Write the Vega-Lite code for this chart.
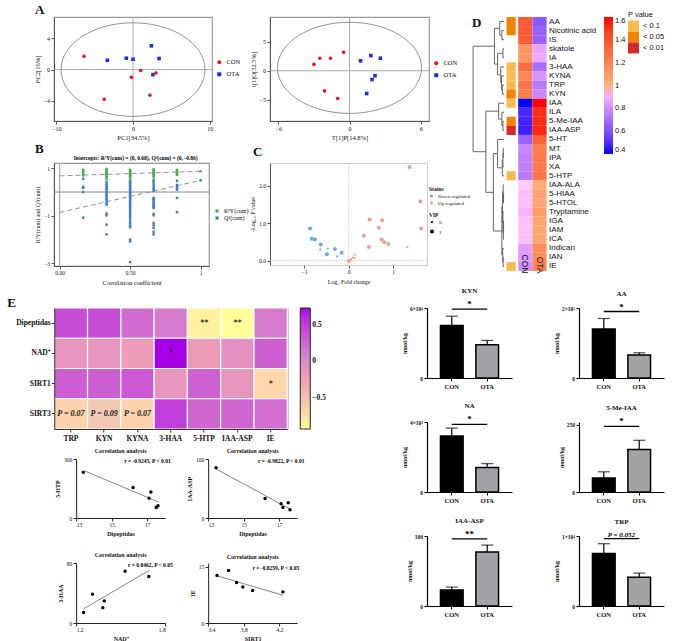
{
"$schema": "https://vega.github.io/schema/vega-lite/v6.json",
"background": "white",
"padding": {"left": 3, "top": 2, "right": 0, "bottom": 0},
"spacing": 0,
"resolve": {"scale": {"color": "independent", "shape": "independent", "size": "independent"}},
"config": {
  "font": "Liberation Serif",
  "view": {"stroke": null},
  "axis": {"grid": false, "labelOverlap": false, "labelFontSize": 6, "titleFontSize": 6.5, "titleFontWeight": "normal", "labelColor": "#111", "titleColor": "#111", "domainColor": "#555", "tickColor": "#555", "tickSize": 3, "labelPadding": 1.5, "titlePadding": 3, "labelFont": "Liberation Serif", "titleFont": "Liberation Serif"},
  "legend": {"labelFontSize": 6, "titleFontSize": 6, "labelColor": "#111", "titleColor": "#111", "labelFont": "Liberation Serif", "titleFont": "Liberation Serif"},
  "title": {"fontWeight": "bold", "color": "#111", "font": "Liberation Serif"},
  "point": {"opacity": 1},
  "circle": {"opacity": 1},
  "square": {"opacity": 1}
},
"datasets": {
  "zero": [{"z": 0}],
  "pca1": [
    {"g":"CON","x":-6.4,"y":1.7},{"g":"CON","x":-3.75,"y":-3.8},{"g":"CON","x":-0.2,"y":-1.0},{"g":"CON","x":1.0,"y":-0.13},{"g":"CON","x":3.0,"y":-0.43},{"g":"CON","x":2.2,"y":-3.3},
    {"g":"OTA","x":-3.35,"y":1.2},{"g":"OTA","x":-0.87,"y":1.46},{"g":"OTA","x":0.0,"y":1.33},{"g":"OTA","x":2.4,"y":3.05},{"g":"OTA","x":3.4,"y":1.42},{"g":"OTA","x":2.6,"y":-0.65}],
  "pca2": [
    {"g":"CON","x":-3.0,"y":1.1},{"g":"CON","x":-2.5,"y":2.15},{"g":"CON","x":-1.6,"y":2.15},{"g":"CON","x":-0.5,"y":3.15},{"g":"CON","x":-2.1,"y":-3.45},{"g":"CON","x":-1.0,"y":-4.75},
    {"g":"OTA","x":0.93,"y":1.7},{"g":"OTA","x":1.8,"y":2.6},{"g":"OTA","x":2.6,"y":2.15},{"g":"OTA","x":2.15,"y":-0.85},{"g":"OTA","x":1.9,"y":-1.5},{"g":"OTA","x":1.45,"y":-3.9}],
  "permline": [{"t":"R","x":0,"y":0.68},{"t":"R","x":1,"y":0.87},{"t":"Q","x":0,"y":-0.86},{"t":"Q","x":1,"y":0.49}],
  "perm": [
    {"t":"R","x":0.167,"v":0.93},{"t":"R","x":0.167,"v":0.88},{"t":"R","x":0.167,"v":0.83},{"t":"R","x":0.167,"v":0.77},{"t":"R","x":0.167,"v":0.70},
    {"t":"R","x":0.333,"v":0.97},{"t":"R","x":0.333,"v":0.92},{"t":"R","x":0.333,"v":0.88},{"t":"R","x":0.333,"v":0.84},{"t":"R","x":0.333,"v":0.80},{"t":"R","x":0.333,"v":0.76},{"t":"R","x":0.333,"v":0.72},{"t":"R","x":0.333,"v":0.68},{"t":"R","x":0.333,"v":0.62},{"t":"R","x":0.333,"v":0.55},
    {"t":"R","x":0.5,"v":0.93},{"t":"R","x":0.5,"v":0.89},{"t":"R","x":0.5,"v":0.85},{"t":"R","x":0.5,"v":0.81},{"t":"R","x":0.5,"v":0.77},{"t":"R","x":0.5,"v":0.73},{"t":"R","x":0.5,"v":0.68},{"t":"R","x":0.5,"v":0.63},{"t":"R","x":0.5,"v":0.58},
    {"t":"R","x":0.667,"v":0.95},{"t":"R","x":0.667,"v":0.90},{"t":"R","x":0.667,"v":0.86},{"t":"R","x":0.667,"v":0.82},{"t":"R","x":0.667,"v":0.78},{"t":"R","x":0.667,"v":0.74},{"t":"R","x":0.667,"v":0.70},{"t":"R","x":0.667,"v":0.62},
    {"t":"R","x":0.833,"v":0.93},{"t":"R","x":0.833,"v":0.88},{"t":"R","x":0.833,"v":0.84},{"t":"R","x":0.833,"v":0.80},{"t":"R","x":0.833,"v":0.76},{"t":"R","x":0.833,"v":0.72},
    {"t":"R","x":1,"v":0.87},
    {"t":"Q","x":0.167,"v":0.56},{"t":"Q","x":0.167,"v":0.22},{"t":"Q","x":0.167,"v":0.17},{"t":"Q","x":0.167,"v":0.0},{"t":"Q","x":0.167,"v":-1.08},
    {"t":"Q","x":0.333,"v":0.42},{"t":"Q","x":0.333,"v":0.34},{"t":"Q","x":0.333,"v":0.27},{"t":"Q","x":0.333,"v":0.2},{"t":"Q","x":0.333,"v":0.14},{"t":"Q","x":0.333,"v":0.07},{"t":"Q","x":0.333,"v":0.0},{"t":"Q","x":0.333,"v":-0.07},{"t":"Q","x":0.333,"v":-0.14},{"t":"Q","x":0.333,"v":-0.22},{"t":"Q","x":0.333,"v":-0.3},{"t":"Q","x":0.333,"v":-0.35},{"t":"Q","x":0.333,"v":-0.46},{"t":"Q","x":0.333,"v":-0.53},{"t":"Q","x":0.333,"v":-0.9},{"t":"Q","x":0.333,"v":-0.98},{"t":"Q","x":0.333,"v":-1.37},{"t":"Q","x":0.333,"v":-1.78},
    {"t":"Q","x":0.5,"v":0.48},{"t":"Q","x":0.5,"v":0.42},{"t":"Q","x":0.5,"v":0.36},{"t":"Q","x":0.5,"v":0.3},{"t":"Q","x":0.5,"v":0.24},{"t":"Q","x":0.5,"v":0.18},{"t":"Q","x":0.5,"v":0.12},{"t":"Q","x":0.5,"v":0.06},{"t":"Q","x":0.5,"v":0.0},{"t":"Q","x":0.5,"v":-0.06},{"t":"Q","x":0.5,"v":-0.12},{"t":"Q","x":0.5,"v":-0.18},{"t":"Q","x":0.5,"v":-0.24},{"t":"Q","x":0.5,"v":-0.3},{"t":"Q","x":0.5,"v":-0.36},{"t":"Q","x":0.5,"v":-0.42},{"t":"Q","x":0.5,"v":-0.48},{"t":"Q","x":0.5,"v":-0.55},{"t":"Q","x":0.5,"v":-0.62},{"t":"Q","x":0.5,"v":-0.7},{"t":"Q","x":0.5,"v":-0.78},{"t":"Q","x":0.5,"v":-0.86},{"t":"Q","x":0.5,"v":-0.94},{"t":"Q","x":0.5,"v":-1.02},{"t":"Q","x":0.5,"v":-1.1},{"t":"Q","x":0.5,"v":-1.2},{"t":"Q","x":0.5,"v":-1.3},{"t":"Q","x":0.5,"v":-1.4},{"t":"Q","x":0.5,"v":-1.48},{"t":"Q","x":0.5,"v":-2.0},{"t":"Q","x":0.5,"v":-2.08},{"t":"Q","x":0.5,"v":-2.95},
    {"t":"Q","x":0.667,"v":0.5},{"t":"Q","x":0.667,"v":0.42},{"t":"Q","x":0.667,"v":0.32},{"t":"Q","x":0.667,"v":0.22},{"t":"Q","x":0.667,"v":0.12},{"t":"Q","x":0.667,"v":0.05},{"t":"Q","x":0.667,"v":-0.25},{"t":"Q","x":0.667,"v":-0.3},{"t":"Q","x":0.667,"v":-0.35},{"t":"Q","x":0.667,"v":-0.42},{"t":"Q","x":0.667,"v":-0.48},{"t":"Q","x":0.667,"v":-0.55},{"t":"Q","x":0.667,"v":-0.62},{"t":"Q","x":0.667,"v":-0.67},{"t":"Q","x":0.667,"v":-0.92},{"t":"Q","x":0.667,"v":-0.98},{"t":"Q","x":0.667,"v":-1.3},{"t":"Q","x":0.667,"v":-1.4},{"t":"Q","x":0.667,"v":-1.5},{"t":"Q","x":0.667,"v":-1.67},{"t":"Q","x":0.667,"v":-1.78},
    {"t":"Q","x":0.833,"v":0.47},{"t":"Q","x":0.833,"v":0.3},{"t":"Q","x":0.833,"v":0.22},{"t":"Q","x":0.833,"v":0.15},{"t":"Q","x":0.833,"v":0.1},{"t":"Q","x":0.833,"v":-0.25},{"t":"Q","x":0.833,"v":-0.85},
    {"t":"Q","x":1,"v":0.49}],
  "caption": [{"x": 0.1, "y": 1.22, "t": "Intercepts: R²Y(cum) = (0, 0.68), Q²(cum) = (0, -0.86)"}],
  "volcano": [
    {"s":"Down regulated","x":-0.87,"y":0.86,"vip":"1"},{"s":"Down regulated","x":-0.83,"y":0.58,"vip":"1"},{"s":"Down regulated","x":-0.76,"y":0.56,"vip":"1"},{"s":"Down regulated","x":-0.63,"y":0.43,"vip":"1"},{"s":"Down regulated","x":-0.64,"y":0.29,"vip":"0"},{"s":"Down regulated","x":-0.47,"y":0.32,"vip":"0"},{"s":"Down regulated","x":-0.49,"y":0.17,"vip":"1"},{"s":"Down regulated","x":-0.31,"y":0.31,"vip":"1"},{"s":"Down regulated","x":-0.26,"y":0.11,"vip":"0"},{"s":"Down regulated","x":-0.16,"y":0.21,"vip":"1"},
    {"s":"Up regulated","x":0.0,"y":-0.01,"vip":"1"},{"s":"Up regulated","x":0.05,"y":0.03,"vip":"0"},{"s":"Up regulated","x":0.09,"y":0.08,"vip":"0"},{"s":"Up regulated","x":0.13,"y":0.07,"vip":"0"},{"s":"Up regulated","x":0.14,"y":0.16,"vip":"0"},{"s":"Up regulated","x":0.34,"y":0.66,"vip":"1"},{"s":"Up regulated","x":0.45,"y":0.36,"vip":"1"},{"s":"Up regulated","x":0.47,"y":1.1,"vip":"1"},{"s":"Up regulated","x":0.68,"y":0.88,"vip":"1"},{"s":"Up regulated","x":0.75,"y":1.08,"vip":"1"},{"s":"Up regulated","x":0.74,"y":0.56,"vip":"1"},{"s":"Up regulated","x":0.8,"y":0.49,"vip":"1"},{"s":"Up regulated","x":0.89,"y":0.44,"vip":"1"},{"s":"Up regulated","x":1.32,"y":0.36,"vip":"0"},{"s":"Up regulated","x":1.37,"y":2.5,"vip":"1"},{"s":"Up regulated","x":1.61,"y":1.58,"vip":"1"},{"s":"Up regulated","x":1.63,"y":0.86,"vip":"1"}],
  "dendro": [
    {"a":10,"b":10,"c":1,"d":2},{"a":0,"b":10,"c":1,"d":1},{"a":0,"b":10,"c":2,"d":2},
    {"a":20,"b":20,"c":0,"d":1.5},{"a":0,"b":20,"c":0,"d":0},{"a":10,"b":20,"c":1.5,"d":1.5},
    {"a":5,"b":5,"c":3,"d":4},{"a":0,"b":5,"c":3,"d":3},{"a":0,"b":5,"c":4,"d":4},
    {"a":8,"b":8,"c":7,"d":8},{"a":0,"b":8,"c":7,"d":7},{"a":0,"b":8,"c":8,"d":8},
    {"a":12,"b":12,"c":6,"d":7.5},{"a":0,"b":12,"c":6,"d":6},{"a":8,"b":12,"c":7.5,"d":7.5},
    {"a":15,"b":15,"c":5,"d":6.75},{"a":0,"b":15,"c":5,"d":5},{"a":12,"b":15,"c":6.75,"d":6.75},
    {"a":30,"b":30,"c":3.5,"d":5.875},{"a":5,"b":30,"c":3.5,"d":3.5},{"a":15,"b":30,"c":5.875,"d":5.875},
    {"a":45,"b":45,"c":0.75,"d":4.6875},{"a":20,"b":45,"c":0.75,"d":0.75},{"a":30,"b":45,"c":4.6875,"d":4.6875},
    {"a":5,"b":5,"c":11,"d":12},{"a":0,"b":5,"c":11,"d":11},{"a":0,"b":5,"c":12,"d":12},
    {"a":10,"b":10,"c":10,"d":11.5},{"a":0,"b":10,"c":10,"d":10},{"a":5,"b":10,"c":11.5,"d":11.5},
    {"a":25,"b":25,"c":9,"d":10.75},{"a":0,"b":25,"c":9,"d":9},{"a":10,"b":25,"c":10.75,"d":10.75},
    {"a":3,"b":3,"c":14,"d":15},{"a":0,"b":3,"c":14,"d":14},{"a":0,"b":3,"c":15,"d":15},
    {"a":5,"b":5,"c":14.5,"d":16},{"a":3,"b":5,"c":14.5,"d":14.5},{"a":0,"b":5,"c":16,"d":16},
    {"a":8,"b":8,"c":15.25,"d":17},{"a":5,"b":8,"c":15.25,"d":15.25},{"a":0,"b":8,"c":17,"d":17},
    {"a":30,"b":30,"c":13,"d":16.125},{"a":0,"b":30,"c":13,"d":13},{"a":8,"b":30,"c":16.125,"d":16.125},
    {"a":2,"b":2,"c":19,"d":20},{"a":0,"b":2,"c":19,"d":19},{"a":0,"b":2,"c":20,"d":20},
    {"a":4,"b":4,"c":18,"d":19.5},{"a":0,"b":4,"c":18,"d":18},{"a":2,"b":4,"c":19.5,"d":19.5},
    {"a":2,"b":2,"c":22,"d":23},{"a":0,"b":2,"c":22,"d":22},{"a":0,"b":2,"c":23,"d":23},
    {"a":3,"b":3,"c":22.5,"d":24},{"a":2,"b":3,"c":22.5,"d":22.5},{"a":0,"b":3,"c":24,"d":24},
    {"a":5,"b":5,"c":21,"d":23.25},{"a":0,"b":5,"c":21,"d":21},{"a":3,"b":5,"c":23.25,"d":23.25},
    {"a":7,"b":7,"c":18.75,"d":22.125},{"a":4,"b":7,"c":18.75,"d":18.75},{"a":5,"b":7,"c":22.125,"d":22.125},
    {"a":4,"b":4,"c":26,"d":27},{"a":0,"b":4,"c":26,"d":26},{"a":0,"b":4,"c":27,"d":27},
    {"a":6,"b":6,"c":25,"d":26.5},{"a":0,"b":6,"c":25,"d":25},{"a":4,"b":6,"c":26.5,"d":26.5},
    {"a":10,"b":10,"c":20.44,"d":25.75},{"a":7,"b":10,"c":20.44,"d":20.44},{"a":6,"b":10,"c":25.75,"d":25.75},
    {"a":50,"b":50,"c":14.56,"d":23.09},{"a":30,"b":50,"c":14.56,"d":14.56},{"a":10,"b":50,"c":23.09,"d":23.09},
    {"a":85,"b":85,"c":9.88,"d":18.83},{"a":25,"b":85,"c":9.88,"d":9.88},{"a":50,"b":85,"c":18.83,"d":18.83},
    {"a":145,"b":145,"c":2.72,"d":14.35},{"a":45,"b":145,"c":2.72,"d":2.72},{"a":85,"b":145,"c":14.35,"d":14.35}],
  "dlabel": [{"a": 150, "c": -0.5, "t": "D"}],
  "pcol": [
    {"n":"AA","p":"< 0.05"},{"n":"Nicotinic acid","p":"< 0.05"},{"n":"3-HAA","p":"< 0.1"},{"n":"KYNA","p":"< 0.1"},{"n":"TRP","p":"< 0.1"},{"n":"KYN","p":"< 0.05"},{"n":"IAA","p":"< 0.1"},{"n":"5-Me-IAA","p":"< 0.05"},{"n":"IAA-ASP","p":"< 0.01"},{"n":"5-HTP","p":"< 0.1"},{"n":"IE","p":"< 0.1"}],
  "heat": [
    {"n":"AA","g":"CON","v":1.37},{"n":"AA","g":"OTA","v":0.63},
    {"n":"Nicotinic acid","g":"CON","v":1.36},{"n":"Nicotinic acid","g":"OTA","v":0.66},
    {"n":"IS","g":"CON","v":1.36},{"n":"IS","g":"OTA","v":0.66},
    {"n":"skatole","g":"CON","v":1.13},{"n":"skatole","g":"OTA","v":0.87},
    {"n":"IA","g":"CON","v":1.12},{"n":"IA","g":"OTA","v":0.88},
    {"n":"3-HAA","g":"CON","v":1.3},{"n":"3-HAA","g":"OTA","v":0.7},
    {"n":"KYNA","g":"CON","v":1.18},{"n":"KYNA","g":"OTA","v":0.82},
    {"n":"TRP","g":"CON","v":1.27},{"n":"TRP","g":"OTA","v":0.73},
    {"n":"KYN","g":"CON","v":1.22},{"n":"KYN","g":"OTA","v":0.78},
    {"n":"IAA","g":"CON","v":0.4},{"n":"IAA","g":"OTA","v":1.6},
    {"n":"ILA","g":"CON","v":0.48},{"n":"ILA","g":"OTA","v":1.52},
    {"n":"5-Me-IAA","g":"CON","v":0.47},{"n":"5-Me-IAA","g":"OTA","v":1.53},
    {"n":"IAA-ASP","g":"CON","v":0.46},{"n":"IAA-ASP","g":"OTA","v":1.54},
    {"n":"5-HT","g":"CON","v":0.66},{"n":"5-HT","g":"OTA","v":1.34},
    {"n":"MT","g":"CON","v":0.78},{"n":"MT","g":"OTA","v":1.22},
    {"n":"IPA","g":"CON","v":0.76},{"n":"IPA","g":"OTA","v":1.24},
    {"n":"XA","g":"CON","v":0.76},{"n":"XA","g":"OTA","v":1.24},
    {"n":"5-HTP","g":"CON","v":0.74},{"n":"5-HTP","g":"OTA","v":1.26},
    {"n":"IAA-ALA","g":"CON","v":0.98},{"n":"IAA-ALA","g":"OTA","v":1.02},
    {"n":"5-HIAA","g":"CON","v":0.94},{"n":"5-HIAA","g":"OTA","v":1.06},
    {"n":"5-HTOL","g":"CON","v":0.94},{"n":"5-HTOL","g":"OTA","v":1.06},
    {"n":"Tryptamine","g":"CON","v":0.91},{"n":"Tryptamine","g":"OTA","v":1.09},
    {"n":"IGA","g":"CON","v":0.95},{"n":"IGA","g":"OTA","v":1.05},
    {"n":"IAM","g":"CON","v":0.95},{"n":"IAM","g":"OTA","v":1.05},
    {"n":"ICA","g":"CON","v":0.95},{"n":"ICA","g":"OTA","v":1.05},
    {"n":"Indican","g":"CON","v":0.85},{"n":"Indican","g":"OTA","v":1.15},
    {"n":"IAN","g":"CON","v":0.83},{"n":"IAN","g":"OTA","v":1.17},
    {"n":"IE","g":"CON","v":0.8},{"n":"IE","g":"OTA","v":1.2}],
  "corr": [
    {"row":"Dipeptidas","col":"TRP","r":0.42,"lab":""},{"row":"Dipeptidas","col":"KYN","r":0.42,"lab":""},{"row":"Dipeptidas","col":"KYNA","r":0.22,"lab":""},{"row":"Dipeptidas","col":"3-HAA","r":0.12,"lab":""},{"row":"Dipeptidas","col":"5-HTP","r":-0.85,"lab":"**"},{"row":"Dipeptidas","col":"IAA-ASP","r":-0.93,"lab":"**"},{"row":"Dipeptidas","col":"IE","r":0.12,"lab":""},
    {"row":"NAD⁺","col":"TRP","r":-0.12,"lab":""},{"row":"NAD⁺","col":"KYN","r":-0.12,"lab":""},{"row":"NAD⁺","col":"KYNA","r":-0.2,"lab":""},{"row":"NAD⁺","col":"3-HAA","r":0.85,"lab":"*"},{"row":"NAD⁺","col":"5-HTP","r":-0.18,"lab":""},{"row":"NAD⁺","col":"IAA-ASP","r":-0.08,"lab":""},{"row":"NAD⁺","col":"IE","r":0.3,"lab":""},
    {"row":"SIRT1","col":"TRP","r":0.3,"lab":""},{"row":"SIRT1","col":"KYN","r":0.3,"lab":""},{"row":"SIRT1","col":"KYNA","r":0.35,"lab":""},{"row":"SIRT1","col":"3-HAA","r":-0.12,"lab":""},{"row":"SIRT1","col":"5-HTP","r":0.28,"lab":""},{"row":"SIRT1","col":"IAA-ASP","r":-0.12,"lab":""},{"row":"SIRT1","col":"IE","r":-0.68,"lab":"*"},
    {"row":"SIRT3","col":"TRP","r":-0.64,"lab":"P = 0.07"},{"row":"SIRT3","col":"KYN","r":-0.56,"lab":"P = 0.09"},{"row":"SIRT3","col":"KYNA","r":-0.64,"lab":"P = 0.07"},{"row":"SIRT3","col":"3-HAA","r":0.5,"lab":""},{"row":"SIRT3","col":"5-HTP","r":0.25,"lab":""},{"row":"SIRT3","col":"IAA-ASP","r":0.25,"lab":""},{"row":"SIRT3","col":"IE","r":0.2,"lab":""}],
  "sc": [
    {"p":1,"x":13.4,"y":232},{"p":1,"x":16.2,"y":155},{"p":1,"x":17.1,"y":100},{"p":1,"x":17.2,"y":132},{"p":1,"x":17.5,"y":54},{"p":1,"x":17.6,"y":62},
    {"p":2,"x":13.45,"y":85},{"p":2,"x":16.2,"y":33},{"p":2,"x":17.1,"y":24},{"p":2,"x":17.2,"y":18},{"p":2,"x":17.5,"y":26},{"p":2,"x":17.6,"y":14},
    {"p":3,"x":1.25,"y":14},{"p":3,"x":1.31,"y":38.5},{"p":3,"x":1.38,"y":20.5},{"p":3,"x":1.39,"y":29.5},{"p":3,"x":1.53,"y":69},{"p":3,"x":1.69,"y":62},
    {"p":4,"x":3.5,"y":12.7},{"p":4,"x":3.63,"y":14},{"p":4,"x":3.72,"y":10.8},{"p":4,"x":3.79,"y":9.6},{"p":4,"x":3.9,"y":8.7},{"p":4,"x":4.24,"y":8.3}],
  "scl": [
    {"p":1,"x":13.43,"y":241},{"p":1,"x":17.64,"y":81},
    {"p":2,"x":13.45,"y":83},{"p":2,"x":17.64,"y":14.6},
    {"p":3,"x":1.25,"y":18.8},{"p":3,"x":1.69,"y":70},
    {"p":4,"x":3.5,"y":12.6},{"p":4,"x":4.24,"y":7.4}],
  "ann": [
    {"p":1,"x":15.7,"y":292,"t":"r = -0.9245, P < 0.01"},
    {"p":2,"x":15.8,"y":97,"t":"r = -0.9822, P < 0.01"},
    {"p":3,"x":1.55,"y":78,"t":"r = 0.8462, P < 0.05"},
    {"p":4,"x":3.9,"y":14.7,"t":"r = -0.8259, P < 0.05"}],
  "bars": [
    {"m":"KYN","g":"CON","mean":45000,"hi":53000},{"m":"KYN","g":"OTA","mean":28400,"hi":32200},
    {"m":"AA","g":"CON","mean":140000,"hi":170000},{"m":"AA","g":"OTA","mean":66000,"hi":72000},
    {"m":"NA","g":"CON","mean":3200,"hi":3650},{"m":"NA","g":"OTA","mean":1400,"hi":1620},
    {"m":"5-Me-IAA","g":"CON","mean":52,"hi":75},{"m":"5-Me-IAA","g":"OTA","mean":158,"hi":192},
    {"m":"IAA-ASP","g":"CON","mean":23,"hi":27},{"m":"IAA-ASP","g":"OTA","mean":77,"hi":87},
    {"m":"TRP","g":"CON","mean":7500,"hi":8900},{"m":"TRP","g":"OTA","mean":4100,"hi":4700}],
  "sig": [
    {"m":"KYN","y":59000,"lab":"*"},{"m":"AA","y":190000,"lab":"*"},{"m":"NA","y":3870,"lab":"*"},
    {"m":"5-Me-IAA","y":244,"lab":"*"},{"m":"IAA-ASP","y":96,"lab":"**"},{"m":"TRP","y":9620,"lab":"P = 0.052"}]
},
"vconcat": [
 {
  "hconcat": [
   {
    "concat": [
     {
      "width": 158, "height": 104,
      "view": {"stroke": "#999", "strokeWidth": 1.2},
      "title": {"text": "A", "anchor": "start", "frame": "group", "fontSize": 13, "offset": 0, "dx": -19},
      "layer": [
       {"data": {"name": "zero"}, "mark": {"type": "rule", "color": "#aaa", "strokeWidth": 1}, "encoding": {"x": {"field": "z", "type": "quantitative"}}},
       {"data": {"name": "zero"}, "mark": {"type": "rule", "color": "#aaa", "strokeWidth": 1}, "encoding": {"y": {"field": "z", "type": "quantitative"}}},
       {"data": {"values": [{"cx": 0, "cy": 0}]}, "mark": {"type": "point", "shape": "M-1,0A1,0.65,0,1,0,1,0A1,0.65,0,1,0,-1,0Z", "size": 20736, "filled": false, "color": "#777", "strokeWidth": 0.8}, "encoding": {"x": {"field": "cx", "type": "quantitative"}, "y": {"field": "cy", "type": "quantitative"}}},
       {"data": {"name": "pca1"}, "mark": {"type": "point", "filled": true, "size": 13},
        "encoding": {
         "x": {"field": "x", "type": "quantitative", "scale": {"domain": [-10.3, 10.3], "nice": false}, "axis": {"values": [-10, -5, 0, 5, 10], "title": "PC1[34.5%]", "labelOverlap": false}},
         "y": {"field": "y", "type": "quantitative", "scale": {"domain": [-6.6, 6.75], "nice": false}, "axis": {"values": [-4, 0, 4], "title": "PC2[16%]", "labelOverlap": false}},
         "color": {"field": "g", "type": "nominal", "scale": {"domain": ["CON", "OTA"], "range": ["#e8161b", "#1a2ee6"]}, "legend": {"title": null, "orient": "none", "legendX": 162, "legendY": 42, "labelFontSize": 6.5, "symbolSize": 16, "rowPadding": 1}},
         "shape": {"field": "g", "type": "nominal", "scale": {"domain": ["CON", "OTA"], "range": ["circle", "square"]}, "legend": {"title": null, "orient": "none", "legendX": 162, "legendY": 42, "labelFontSize": 6.5, "symbolSize": 16, "rowPadding": 1}}
        }}
      ]
     },
     {
      "width": 159, "height": 104,
      "view": {"stroke": "#999", "strokeWidth": 1.2},
      "layer": [
       {"data": {"name": "zero"}, "mark": {"type": "rule", "color": "#aaa", "strokeWidth": 1}, "encoding": {"x": {"field": "z", "type": "quantitative"}}},
       {"data": {"name": "zero"}, "mark": {"type": "rule", "color": "#aaa", "strokeWidth": 1}, "encoding": {"y": {"field": "z", "type": "quantitative"}}},
       {"data": {"values": [{"cx": 0, "cy": 0.5}]}, "mark": {"type": "point", "shape": "M-1,0A1,0.633,0,1,0,1,0A1,0.633,0,1,0,-1,0Z", "size": 20736, "filled": false, "color": "#777", "strokeWidth": 0.8}, "encoding": {"x": {"field": "cx", "type": "quantitative"}, "y": {"field": "cy", "type": "quantitative"}}},
       {"data": {"name": "pca2"}, "mark": {"type": "point", "filled": true, "size": 13},
        "encoding": {
         "x": {"field": "x", "type": "quantitative", "scale": {"domain": [-6.7, 6.7], "nice": false}, "axis": {"values": [-6, -3, 0, 3, 6], "title": "T[1]P[14.8%]", "labelOverlap": false}},
         "y": {"field": "y", "type": "quantitative", "scale": {"domain": [-8.6, 9.2], "nice": false}, "axis": {"values": [-5, 0, 5], "title": "t[1]O[32.5%]", "labelOverlap": false}},
         "color": {"field": "g", "type": "nominal", "scale": {"domain": ["CON", "OTA"], "range": ["#e8161b", "#1a2ee6"]}, "legend": {"title": null, "orient": "none", "legendX": 163, "legendY": 43, "labelFontSize": 6.5, "symbolSize": 16, "rowPadding": 1}},
         "shape": {"field": "g", "type": "nominal", "scale": {"domain": ["CON", "OTA"], "range": ["circle", "square"]}, "legend": {"title": null, "orient": "none", "legendX": 163, "legendY": 43, "labelFontSize": 6.5, "symbolSize": 16, "rowPadding": 1}}
        }}
      ]
     },
     {
      "width": 155, "height": 103,
      "view": {"stroke": "#999", "strokeWidth": 1.2},
      "title": {"text": "B", "anchor": "start", "frame": "group", "fontSize": 13, "offset": 0, "dx": -19},
      "layer": [
       {"data": {"name": "zero"}, "mark": {"type": "rule", "color": "#aaa", "strokeWidth": 1.2}, "encoding": {"x": {"field": "z", "type": "quantitative"}}},
       {"data": {"name": "zero"}, "mark": {"type": "rule", "color": "#888", "strokeWidth": 1}, "encoding": {"y": {"field": "z", "type": "quantitative"}}},
       {"data": {"name": "permline"}, "mark": {"type": "line", "strokeDash": [5, 3], "color": "#888", "strokeWidth": 0.9}, "encoding": {"x": {"field": "x", "type": "quantitative"}, "y": {"field": "y", "type": "quantitative"}, "detail": {"field": "t"}}},
       {"data": {"name": "perm"}, "mark": {"type": "square", "size": 6},
        "encoding": {
         "x": {"field": "x", "type": "quantitative", "scale": {"domain": [-0.04, 1.06], "nice": false}, "axis": {"values": [0, 0.25, 0.5, 0.75, 1], "labelExpr": "datum.value == 1 ? '1' : format(datum.value, '.2f')", "title": "Correlation coefficient", "labelFontSize": 5.5, "titleFontSize": 6.5, "labelOverlap": false}},
         "y": {"field": "v", "type": "quantitative", "scale": {"domain": [-3.11, 1.22], "nice": false}, "axis": {"values": [-3, -2, -1, 0, 1], "title": "R²Y(cum) and Q²(cum)", "labelFontSize": 5.5, "titleFontSize": 6, "labelOverlap": false}},
         "color": {"field": "t", "type": "nominal", "scale": {"domain": ["R", "Q"], "range": ["#4cb050", "#3b7fc4"]}, "legend": {"title": null, "orient": "none", "legendX": 160, "legendY": 45, "labelFontSize": 6, "symbolType": "square", "symbolSize": 10, "rowPadding": 1, "labelExpr": "datum.label == 'R' ? 'R²Y(cum)' : 'Q²(cum)'"}}
        }},
       {"data": {"name": "caption"}, "mark": {"type": "text", "fontSize": 5.5, "fontWeight": "bold", "baseline": "bottom", "align": "left", "dy": -2}, "encoding": {"x": {"field": "x", "type": "quantitative"}, "y": {"field": "y", "type": "quantitative"}, "text": {"field": "t"}}}
      ]
     },
     {
      "width": 157, "height": 102,
      "view": {"stroke": "#ccc", "strokeWidth": 1},
      "title": {"text": "C", "anchor": "start", "frame": "group", "fontSize": 13, "offset": 4, "dx": -17},
      "layer": [
       {"data": {"name": "zero"}, "mark": {"type": "rule", "color": "#bbb", "strokeWidth": 0.8, "strokeDash": [1.5, 1.5]}, "encoding": {"x": {"field": "z", "type": "quantitative"}}},
       {"data": {"name": "zero"}, "mark": {"type": "rule", "color": "#bbb", "strokeWidth": 0.8, "strokeDash": [1.5, 1.5]}, "encoding": {"y": {"field": "z", "type": "quantitative"}}},
       {"data": {"name": "volcano"}, "mark": {"type": "circle"},
        "encoding": {
         "x": {"field": "x", "type": "quantitative", "scale": {"domain": [-1.77, 1.76], "nice": false}, "axis": {"values": [-1, 0, 1], "title": "Log₂ Fold change", "labelFontSize": 5.5, "titleFontSize": 6, "domainColor": "#ccc", "labelOverlap": false}},
         "y": {"field": "y", "type": "quantitative", "scale": {"domain": [-0.12, 2.61], "nice": false}, "axis": {"values": [0, 0.5, 1, 1.5, 2, 2.5], "format": ".1f", "title": "-Log₁₀ P value", "labelFontSize": 5.5, "titleFontSize": 6, "labelOverlap": false}},
         "color": {"field": "s", "type": "nominal", "scale": {"domain": ["Down regulated", "Up regulated"], "range": ["#6ea6ee", "#f49a93"]}, "legend": {"title": "Status", "orient": "none", "legendX": 159, "legendY": 24, "labelFontSize": 5, "titleFontSize": 5.5, "symbolSize": 10, "rowPadding": 1, "titlePadding": 1}},
         "size": {"field": "vip", "type": "ordinal", "scale": {"domain": ["0", "1"], "range": [5, 16]}, "legend": {"title": "VIP", "orient": "none", "legendX": 159, "legendY": 50, "labelFontSize": 5, "titleFontSize": 5.5, "rowPadding": 0, "titlePadding": 1}}
        }}
      ]
     }
    ],
    "columns": 2,
    "bounds": "flush",
    "spacing": {"row": 42, "column": 58},
    "resolve": {"scale": {"color": "independent", "shape": "independent", "size": "independent"}}
   },
   {
    "hconcat": [
     {
      "width": 32, "height": 254,
      "layer": [
       {"data": {"name": "dendro"}, "mark": {"type": "rule", "color": "#666", "strokeWidth": 1},
        "encoding": {
         "x": {"field": "a", "type": "quantitative", "scale": {"domain": [150, 0], "nice": false, "zero": false}, "axis": null},
         "x2": {"field": "b"},
         "y": {"field": "c", "type": "quantitative", "scale": {"domain": [-0.5, 27.5], "reverse": true, "nice": false, "zero": false}, "axis": null},
         "y2": {"field": "d"}
        }},
       {"data": {"name": "dlabel"}, "mark": {"type": "text", "fontSize": 13, "fontWeight": "bold", "align": "left", "baseline": "top", "font": "Liberation Serif", "color": "#111"}, "encoding": {"x": {"field": "a", "type": "quantitative"}, "y": {"field": "c", "type": "quantitative"}, "text": {"field": "t"}}}
      ]
     },
     {
      "width": 42.6, "height": 254,
      "layer": [
       {"data": {"name": "pcol"}, "mark": {"type": "rect", "width": {"band": 0.65}},
        "encoding": {
         "x": {"datum": "P", "type": "nominal"},
         "y": {"field": "n", "type": "nominal", "scale": {"domain": ["AA","Nicotinic acid","IS","skatole","IA","3-HAA","KYNA","TRP","KYN","IAA","ILA","5-Me-IAA","IAA-ASP","5-HT","MT","IPA","XA","5-HTP","IAA-ALA","5-HIAA","5-HTOL","Tryptamine","IGA","IAM","ICA","Indican","IAN","IE"], "paddingInner": 0, "paddingOuter": 0}},
         "color": {"field": "p", "type": "nominal", "scale": {"domain": ["< 0.1", "< 0.05", "< 0.01"], "range": ["#fcbb4c", "#f28200", "#d62b2b"]}, "legend": {"title": "P value", "orient": "none", "legendX": 124, "legendY": -6, "titleFont": "Liberation Sans", "titleFontSize": 7.5, "titleFontWeight": "normal", "labelFont": "Liberation Sans", "labelFontSize": 7.5, "symbolType": "square", "symbolSize": 120, "symbolStrokeWidth": 0, "rowPadding": 0, "titlePadding": 2}}
        }},
       {"data": {"name": "heat"}, "mark": {"type": "rect"},
        "encoding": {
         "x": {"field": "g", "type": "nominal", "scale": {"domain": ["P", "CON", "OTA"], "paddingInner": 0, "paddingOuter": 0}, "axis": {"title": null, "labelAngle": 90, "ticks": false, "domain": false, "labelFont": "Liberation Sans", "labelFontSize": 8.5, "labelPadding": 2, "labelExpr": "datum.label == 'P' ? '' : datum.label"}},
         "y": {"field": "n", "type": "nominal", "scale": {"domain": ["AA","Nicotinic acid","IS","skatole","IA","3-HAA","KYNA","TRP","KYN","IAA","ILA","5-Me-IAA","IAA-ASP","5-HT","MT","IPA","XA","5-HTP","IAA-ALA","5-HIAA","5-HTOL","Tryptamine","IGA","IAM","ICA","Indican","IAN","IE"], "paddingInner": 0, "paddingOuter": 0}, "axis": {"title": null, "orient": "right", "ticks": false, "domain": false, "labelFont": "Liberation Sans", "labelFontSize": 8, "labelPadding": 2}},
         "color": {"field": "v", "type": "quantitative", "scale": {"domain": [0.4, 1, 1.6], "range": ["#0000ff", "#ffffff", "#ff0000"]}, "legend": {"title": null, "orient": "none", "legendX": 100, "legendY": 0, "direction": "vertical", "gradientLength": 137, "gradientThickness": 9, "values": [0.4, 0.6, 0.8, 1, 1.2, 1.4, 1.6], "labelExpr": "'' + datum.value", "labelFont": "Liberation Sans", "labelFontSize": 7.5, "labelOverlap": false}}
        }}
      ],
      "resolve": {"scale": {"color": "independent"}}
     }
    ],
    "spacing": 0,
    "bounds": "flush",
    "resolve": {"scale": {"color": "independent", "shape": "independent", "size": "independent"}}
   }
  ],
  "spacing": 0,
  "resolve": {"scale": {"color": "independent", "shape": "independent", "size": "independent"}}
 },
 {
  "hconcat": [
   {
    "vconcat": [
     {
      "width": 233, "height": 121,
      "view": {"stroke": "#333", "strokeWidth": 1},
      "title": {"text": "E", "anchor": "start", "frame": "group", "fontSize": 13, "offset": -3, "dx": -47},
      "data": {"name": "corr"},
      "encoding": {
       "x": {"field": "col", "type": "nominal", "sort": ["TRP", "KYN", "KYNA", "3-HAA", "5-HTP", "IAA-ASP", "IE"], "scale": {"paddingInner": 0, "paddingOuter": 0}, "axis": {"title": null, "labelAngle": 0, "labelFontSize": 7.5, "labelFontWeight": "bold", "domainColor": "#333", "tickColor": "#333", "tickSize": 3, "labelPadding": 2}},
       "y": {"field": "row", "type": "nominal", "sort": ["Dipeptidas", "NAD⁺", "SIRT1", "SIRT3"], "scale": {"paddingInner": 0, "paddingOuter": 0}, "axis": {"title": null, "labelFontSize": 7.5, "labelFontWeight": "bold", "domainColor": "#333", "tickColor": "#333", "tickSize": 3, "labelPadding": 1, "minExtent": 50}}
      },
      "layer": [
       {"mark": {"type": "rect", "stroke": "#ffffff", "strokeWidth": 1.2},
        "encoding": {"color": {"field": "r", "type": "quantitative", "scale": {"domain": [-0.93, -0.55, 0, 0.73], "range": ["#ffff9a", "#f0c8b4", "#d88ccb", "#a800e6"], "clamp": true}, "legend": {"title": null, "direction": "vertical", "gradientLength": 121, "gradientThickness": 10, "values": [-0.5, 0, 0.5], "labelExpr": "datum.value == 0 ? '0' : format(datum.value, '.1f')", "labelFontSize": 7.5, "labelFontWeight": "bold", "gradientStrokeColor": "#222", "gradientStrokeWidth": 1, "offset": 13, "padding": 0, "labelOverlap": false}}}},
       {"mark": {"type": "text", "fontSize": 8, "fontWeight": "bold", "fontStyle": "italic", "color": "#222"}, "encoding": {"text": {"field": "lab"}}}
      ]
     },
     {
      "concat": [
       {
        "width": 89, "height": 59,
        "title": {"text": "Correlation analysis", "fontSize": 6, "offset": 3},
        "layer": [
         {"data": {"name": "scl"}, "transform": [{"filter": "datum.p == 1"}], "mark": {"type": "line", "color": "#666", "strokeWidth": 0.8}, "encoding": {"x": {"field": "x", "type": "quantitative"}, "y": {"field": "y", "type": "quantitative"}}},
         {"data": {"name": "sc"}, "transform": [{"filter": "datum.p == 1"}], "mark": {"type": "circle", "color": "#000", "size": 12},
          "encoding": {"x": {"field": "x", "type": "quantitative", "scale": {"domain": [13, 18], "nice": false, "zero": false}, "axis": {"values": [13, 14, 15, 16, 17, 18], "title": "Dipeptidas", "labelFontSize": 5.5, "titleFontSize": 6, "titleFontWeight": "bold", "domainColor": "#222", "tickColor": "#222", "labelOverlap": false, "titlePadding": 2}},
                       "y": {"field": "y", "type": "quantitative", "scale": {"domain": [0, 300]}, "axis": {"values": [0, 100, 200, 300], "title": "5-HTP", "labelFontSize": 5.5, "titleFontSize": 6, "titleFontWeight": "bold", "domainColor": "#222", "tickColor": "#222", "labelOverlap": false}}}},
         {"data": {"name": "ann"}, "transform": [{"filter": "datum.p == 1"}], "mark": {"type": "text", "fontSize": 5.5, "fontWeight": "bold", "align": "left"}, "encoding": {"x": {"field": "x", "type": "quantitative"}, "y": {"field": "y", "type": "quantitative"}, "text": {"field": "t"}}}
        ]
       },
       {
        "width": 89, "height": 59,
        "title": {"text": "Correlation analysis", "fontSize": 6, "offset": 3},
        "layer": [
         {"data": {"name": "scl"}, "transform": [{"filter": "datum.p == 2"}], "mark": {"type": "line", "color": "#666", "strokeWidth": 0.8}, "encoding": {"x": {"field": "x", "type": "quantitative"}, "y": {"field": "y", "type": "quantitative"}}},
         {"data": {"name": "sc"}, "transform": [{"filter": "datum.p == 2"}], "mark": {"type": "circle", "color": "#000", "size": 12},
          "encoding": {"x": {"field": "x", "type": "quantitative", "scale": {"domain": [13, 18], "nice": false, "zero": false}, "axis": {"values": [13, 14, 15, 16, 17, 18], "title": "Dipeptidas", "labelFontSize": 5.5, "titleFontSize": 6, "titleFontWeight": "bold", "domainColor": "#222", "tickColor": "#222", "labelOverlap": false, "titlePadding": 2}},
                       "y": {"field": "y", "type": "quantitative", "scale": {"domain": [0, 100]}, "axis": {"values": [0, 20, 40, 60, 80, 100], "title": "IAA-ASP", "labelFontSize": 5.5, "titleFontSize": 6, "titleFontWeight": "bold", "domainColor": "#222", "tickColor": "#222", "labelOverlap": false}}}},
         {"data": {"name": "ann"}, "transform": [{"filter": "datum.p == 2"}], "mark": {"type": "text", "fontSize": 5.5, "fontWeight": "bold", "align": "left"}, "encoding": {"x": {"field": "x", "type": "quantitative"}, "y": {"field": "y", "type": "quantitative"}, "text": {"field": "t"}}}
        ]
       },
       {
        "width": 89, "height": 60,
        "title": {"text": "Correlation analysis", "fontSize": 6, "offset": 3},
        "layer": [
         {"data": {"name": "scl"}, "transform": [{"filter": "datum.p == 3"}], "mark": {"type": "line", "color": "#666", "strokeWidth": 0.8}, "encoding": {"x": {"field": "x", "type": "quantitative"}, "y": {"field": "y", "type": "quantitative"}}},
         {"data": {"name": "sc"}, "transform": [{"filter": "datum.p == 3"}], "mark": {"type": "circle", "color": "#000", "size": 12},
          "encoding": {"x": {"field": "x", "type": "quantitative", "scale": {"domain": [1.2, 1.8], "nice": false, "zero": false}, "axis": {"values": [1.2, 1.3, 1.4, 1.5, 1.6, 1.7, 1.8], "format": ".1f", "title": "NAD⁺", "labelFontSize": 5.5, "titleFontSize": 6, "titleFontWeight": "bold", "domainColor": "#222", "tickColor": "#222", "labelOverlap": false, "titlePadding": 2}},
                       "y": {"field": "y", "type": "quantitative", "scale": {"domain": [0, 80]}, "axis": {"values": [0, 20, 40, 60, 80], "title": "3-HAA", "labelFontSize": 5.5, "titleFontSize": 6, "titleFontWeight": "bold", "domainColor": "#222", "tickColor": "#222", "labelOverlap": false}}}},
         {"data": {"name": "ann"}, "transform": [{"filter": "datum.p == 3"}], "mark": {"type": "text", "fontSize": 5.5, "fontWeight": "bold", "align": "left"}, "encoding": {"x": {"field": "x", "type": "quantitative"}, "y": {"field": "y", "type": "quantitative"}, "text": {"field": "t"}}}
        ]
       },
       {
        "width": 89, "height": 60,
        "title": {"text": "Correlation analysis", "fontSize": 6, "offset": 3},
        "layer": [
         {"data": {"name": "scl"}, "transform": [{"filter": "datum.p == 4"}], "mark": {"type": "line", "color": "#666", "strokeWidth": 0.8}, "encoding": {"x": {"field": "x", "type": "quantitative"}, "y": {"field": "y", "type": "quantitative"}}},
         {"data": {"name": "sc"}, "transform": [{"filter": "datum.p == 4"}], "mark": {"type": "circle", "color": "#000", "size": 12},
          "encoding": {"x": {"field": "x", "type": "quantitative", "scale": {"domain": [3.4, 4.4], "nice": false, "zero": false}, "axis": {"values": [3.4, 3.6, 3.8, 4.0, 4.2, 4.4], "format": ".1f", "title": "SIRT1", "labelFontSize": 5.5, "titleFontSize": 6, "titleFontWeight": "bold", "domainColor": "#222", "tickColor": "#222", "labelOverlap": false, "titlePadding": 2}},
                       "y": {"field": "y", "type": "quantitative", "scale": {"domain": [0, 15]}, "axis": {"values": [0, 5, 10, 15], "title": "IE", "labelFontSize": 5.5, "titleFontSize": 6, "titleFontWeight": "bold", "domainColor": "#222", "tickColor": "#222", "labelOverlap": false}}}},
         {"data": {"name": "ann"}, "transform": [{"filter": "datum.p == 4"}], "mark": {"type": "text", "fontSize": 5.5, "fontWeight": "bold", "align": "left"}, "encoding": {"x": {"field": "x", "type": "quantitative"}, "y": {"field": "y", "type": "quantitative"}, "text": {"field": "t"}}}
        ]
       }
      ],
      "columns": 2,
      "bounds": "flush",
      "spacing": {"row": 45, "column": 43}
     }
    ],
    "spacing": 6,
    "center": true,
    "resolve": {"scale": {"color": "independent", "shape": "independent", "size": "independent"}}
   },
   {
    "concat": [
     {
      "width": 85, "height": 70,
      "title": {"text": "KYN", "fontSize": 7, "offset": 6},
      "encoding": {"x": {"field": "g", "type": "nominal", "scale": {"domain": ["CON", "OTA"], "paddingInner": 0.36, "paddingOuter": 0.38}, "axis": {"title": null, "labelAngle": 0, "labelFontSize": 6.5, "labelFontWeight": "bold", "domainColor": "#000", "domainWidth": 1.2, "tickColor": "#000", "tickSize": 3, "labelPadding": 2}}},
      "layer": [
       {"data": {"name": "bars"}, "transform": [{"filter": "datum.m == 'KYN'"}], "mark": {"type": "rule", "color": "#000", "strokeWidth": 1.2}, "encoding": {"y": {"field": "mean", "type": "quantitative"}, "y2": {"field": "hi"}}},
       {"data": {"name": "bars"}, "transform": [{"filter": "datum.m == 'KYN'"}], "mark": {"type": "tick", "color": "#000", "thickness": 1.2, "size": 12}, "encoding": {"y": {"field": "hi", "type": "quantitative"}}},
       {"data": {"name": "bars"}, "transform": [{"filter": "datum.m == 'KYN'"}], "mark": {"type": "bar", "stroke": "#000", "strokeWidth": 1.5}, "encoding": {"y": {"field": "mean", "type": "quantitative", "scale": {"domain": [0, 60000]}, "axis": {"values": [0, 20000, 40000, 60000], "labelExpr": "datum.value == 0 ? '0' : datum.value < 1000 ? format(datum.value, 'd') : format(datum.value / pow(10, floor(log(datum.value) / LN10 + 0.000001)), '') + '×10' + ['', '', '', '³', '⁴', '⁵'][floor(log(datum.value) / LN10 + 0.000001)]", "title": "nmol/kg", "labelFontSize": 5.5, "labelFontWeight": "bold", "titleFontSize": 6, "titleFontWeight": "bold", "domainColor": "#000", "domainWidth": 1.2, "tickColor": "#000", "titlePadding": 2, "labelOverlap": false}}, "color": {"field": "g", "type": "nominal", "scale": {"domain": ["CON", "OTA"], "range": ["#000000", "#a3a3a7"]}, "legend": null}}},
       {"data": {"name": "sig"}, "transform": [{"filter": "datum.m == 'KYN'"}], "mark": {"type": "rule", "color": "#000", "strokeWidth": 1.3}, "encoding": {"x": {"datum": "CON", "type": "nominal", "bandPosition": 0.5}, "x2": {"datum": "OTA", "bandPosition": 0.5}, "y": {"field": "y", "type": "quantitative"}}},
       {"data": {"name": "sig"}, "transform": [{"filter": "datum.m == 'KYN'"}], "mark": {"type": "text", "fontSize": 9, "fontWeight": "bold", "baseline": "bottom"}, "encoding": {"x": {"datum": "CON", "type": "nominal", "bandPosition": 1.28}, "y": {"field": "y", "type": "quantitative"}, "text": {"field": "lab"}}}
      ]
     },
     {
      "width": 85, "height": 70,
      "title": {"text": "AA", "fontSize": 7, "offset": 6},
      "encoding": {"x": {"field": "g", "type": "nominal", "scale": {"domain": ["CON", "OTA"], "paddingInner": 0.36, "paddingOuter": 0.38}, "axis": {"title": null, "labelAngle": 0, "labelFontSize": 6.5, "labelFontWeight": "bold", "domainColor": "#000", "domainWidth": 1.2, "tickColor": "#000", "tickSize": 3, "labelPadding": 2}}},
      "layer": [
       {"data": {"name": "bars"}, "transform": [{"filter": "datum.m == 'AA'"}], "mark": {"type": "rule", "color": "#000", "strokeWidth": 1.2}, "encoding": {"y": {"field": "mean", "type": "quantitative"}, "y2": {"field": "hi"}}},
       {"data": {"name": "bars"}, "transform": [{"filter": "datum.m == 'AA'"}], "mark": {"type": "tick", "color": "#000", "thickness": 1.2, "size": 12}, "encoding": {"y": {"field": "hi", "type": "quantitative"}}},
       {"data": {"name": "bars"}, "transform": [{"filter": "datum.m == 'AA'"}], "mark": {"type": "bar", "stroke": "#000", "strokeWidth": 1.5}, "encoding": {"y": {"field": "mean", "type": "quantitative", "scale": {"domain": [0, 200000]}, "axis": {"values": [0, 50000, 100000, 150000, 200000], "labelExpr": "datum.value == 0 ? '0' : datum.value < 1000 ? format(datum.value, 'd') : format(datum.value / pow(10, floor(log(datum.value) / LN10 + 0.000001)), '') + '×10' + ['', '', '', '³', '⁴', '⁵'][floor(log(datum.value) / LN10 + 0.000001)]", "title": "nmol/kg", "labelFontSize": 5.5, "labelFontWeight": "bold", "titleFontSize": 6, "titleFontWeight": "bold", "domainColor": "#000", "domainWidth": 1.2, "tickColor": "#000", "titlePadding": 2, "labelOverlap": false}}, "color": {"field": "g", "type": "nominal", "scale": {"domain": ["CON", "OTA"], "range": ["#000000", "#a3a3a7"]}, "legend": null}}},
       {"data": {"name": "sig"}, "transform": [{"filter": "datum.m == 'AA'"}], "mark": {"type": "rule", "color": "#000", "strokeWidth": 1.3}, "encoding": {"x": {"datum": "CON", "type": "nominal", "bandPosition": 0.5}, "x2": {"datum": "OTA", "bandPosition": 0.5}, "y": {"field": "y", "type": "quantitative"}}},
       {"data": {"name": "sig"}, "transform": [{"filter": "datum.m == 'AA'"}], "mark": {"type": "text", "fontSize": 9, "fontWeight": "bold", "baseline": "bottom"}, "encoding": {"x": {"datum": "CON", "type": "nominal", "bandPosition": 1.28}, "y": {"field": "y", "type": "quantitative"}, "text": {"field": "lab"}}}
      ]
     },
     {
      "width": 85, "height": 70,
      "title": {"text": "NA", "fontSize": 7, "offset": 6},
      "encoding": {"x": {"field": "g", "type": "nominal", "scale": {"domain": ["CON", "OTA"], "paddingInner": 0.36, "paddingOuter": 0.38}, "axis": {"title": null, "labelAngle": 0, "labelFontSize": 6.5, "labelFontWeight": "bold", "domainColor": "#000", "domainWidth": 1.2, "tickColor": "#000", "tickSize": 3, "labelPadding": 2}}},
      "layer": [
       {"data": {"name": "bars"}, "transform": [{"filter": "datum.m == 'NA'"}], "mark": {"type": "rule", "color": "#000", "strokeWidth": 1.2}, "encoding": {"y": {"field": "mean", "type": "quantitative"}, "y2": {"field": "hi"}}},
       {"data": {"name": "bars"}, "transform": [{"filter": "datum.m == 'NA'"}], "mark": {"type": "tick", "color": "#000", "thickness": 1.2, "size": 12}, "encoding": {"y": {"field": "hi", "type": "quantitative"}}},
       {"data": {"name": "bars"}, "transform": [{"filter": "datum.m == 'NA'"}], "mark": {"type": "bar", "stroke": "#000", "strokeWidth": 1.5}, "encoding": {"y": {"field": "mean", "type": "quantitative", "scale": {"domain": [0, 4000]}, "axis": {"values": [0, 1000, 2000, 3000, 4000], "labelExpr": "datum.value == 0 ? '0' : datum.value < 1000 ? format(datum.value, 'd') : format(datum.value / pow(10, floor(log(datum.value) / LN10 + 0.000001)), '') + '×10' + ['', '', '', '³', '⁴', '⁵'][floor(log(datum.value) / LN10 + 0.000001)]", "title": "nmol/kg", "labelFontSize": 5.5, "labelFontWeight": "bold", "titleFontSize": 6, "titleFontWeight": "bold", "domainColor": "#000", "domainWidth": 1.2, "tickColor": "#000", "titlePadding": 2, "labelOverlap": false}}, "color": {"field": "g", "type": "nominal", "scale": {"domain": ["CON", "OTA"], "range": ["#000000", "#a3a3a7"]}, "legend": null}}},
       {"data": {"name": "sig"}, "transform": [{"filter": "datum.m == 'NA'"}], "mark": {"type": "rule", "color": "#000", "strokeWidth": 1.3}, "encoding": {"x": {"datum": "CON", "type": "nominal", "bandPosition": 0.5}, "x2": {"datum": "OTA", "bandPosition": 0.5}, "y": {"field": "y", "type": "quantitative"}}},
       {"data": {"name": "sig"}, "transform": [{"filter": "datum.m == 'NA'"}], "mark": {"type": "text", "fontSize": 9, "fontWeight": "bold", "baseline": "bottom"}, "encoding": {"x": {"datum": "CON", "type": "nominal", "bandPosition": 1.28}, "y": {"field": "y", "type": "quantitative"}, "text": {"field": "lab"}}}
      ]
     },
     {
      "width": 85, "height": 70,
      "title": {"text": "5-Me-IAA", "fontSize": 7, "offset": 6},
      "encoding": {"x": {"field": "g", "type": "nominal", "scale": {"domain": ["CON", "OTA"], "paddingInner": 0.36, "paddingOuter": 0.38}, "axis": {"title": null, "labelAngle": 0, "labelFontSize": 6.5, "labelFontWeight": "bold", "domainColor": "#000", "domainWidth": 1.2, "tickColor": "#000", "tickSize": 3, "labelPadding": 2}}},
      "layer": [
       {"data": {"name": "bars"}, "transform": [{"filter": "datum.m == '5-Me-IAA'"}], "mark": {"type": "rule", "color": "#000", "strokeWidth": 1.2}, "encoding": {"y": {"field": "mean", "type": "quantitative"}, "y2": {"field": "hi"}}},
       {"data": {"name": "bars"}, "transform": [{"filter": "datum.m == '5-Me-IAA'"}], "mark": {"type": "tick", "color": "#000", "thickness": 1.2, "size": 12}, "encoding": {"y": {"field": "hi", "type": "quantitative"}}},
       {"data": {"name": "bars"}, "transform": [{"filter": "datum.m == '5-Me-IAA'"}], "mark": {"type": "bar", "stroke": "#000", "strokeWidth": 1.5}, "encoding": {"y": {"field": "mean", "type": "quantitative", "scale": {"domain": [0, 250]}, "axis": {"values": [0, 50, 100, 150, 200, 250], "title": "nmol/kg", "labelFontSize": 5.5, "labelFontWeight": "bold", "titleFontSize": 6, "titleFontWeight": "bold", "domainColor": "#000", "domainWidth": 1.2, "tickColor": "#000", "titlePadding": 2, "labelOverlap": false}}, "color": {"field": "g", "type": "nominal", "scale": {"domain": ["CON", "OTA"], "range": ["#000000", "#a3a3a7"]}, "legend": null}}},
       {"data": {"name": "sig"}, "transform": [{"filter": "datum.m == '5-Me-IAA'"}], "mark": {"type": "rule", "color": "#000", "strokeWidth": 1.3}, "encoding": {"x": {"datum": "CON", "type": "nominal", "bandPosition": 0.5}, "x2": {"datum": "OTA", "bandPosition": 0.5}, "y": {"field": "y", "type": "quantitative"}}},
       {"data": {"name": "sig"}, "transform": [{"filter": "datum.m == '5-Me-IAA'"}], "mark": {"type": "text", "fontSize": 9, "fontWeight": "bold", "baseline": "bottom"}, "encoding": {"x": {"datum": "CON", "type": "nominal", "bandPosition": 1.28}, "y": {"field": "y", "type": "quantitative"}, "text": {"field": "lab"}}}
      ]
     },
     {
      "width": 85, "height": 70,
      "title": {"text": "IAA-ASP", "fontSize": 7, "offset": 6},
      "encoding": {"x": {"field": "g", "type": "nominal", "scale": {"domain": ["CON", "OTA"], "paddingInner": 0.36, "paddingOuter": 0.38}, "axis": {"title": null, "labelAngle": 0, "labelFontSize": 6.5, "labelFontWeight": "bold", "domainColor": "#000", "domainWidth": 1.2, "tickColor": "#000", "tickSize": 3, "labelPadding": 2}}},
      "layer": [
       {"data": {"name": "bars"}, "transform": [{"filter": "datum.m == 'IAA-ASP'"}], "mark": {"type": "rule", "color": "#000", "strokeWidth": 1.2}, "encoding": {"y": {"field": "mean", "type": "quantitative"}, "y2": {"field": "hi"}}},
       {"data": {"name": "bars"}, "transform": [{"filter": "datum.m == 'IAA-ASP'"}], "mark": {"type": "tick", "color": "#000", "thickness": 1.2, "size": 12}, "encoding": {"y": {"field": "hi", "type": "quantitative"}}},
       {"data": {"name": "bars"}, "transform": [{"filter": "datum.m == 'IAA-ASP'"}], "mark": {"type": "bar", "stroke": "#000", "strokeWidth": 1.5}, "encoding": {"y": {"field": "mean", "type": "quantitative", "scale": {"domain": [0, 100]}, "axis": {"values": [0, 20, 40, 60, 80, 100], "title": "nmol/kg", "labelFontSize": 5.5, "labelFontWeight": "bold", "titleFontSize": 6, "titleFontWeight": "bold", "domainColor": "#000", "domainWidth": 1.2, "tickColor": "#000", "titlePadding": 2, "labelOverlap": false}}, "color": {"field": "g", "type": "nominal", "scale": {"domain": ["CON", "OTA"], "range": ["#000000", "#a3a3a7"]}, "legend": null}}},
       {"data": {"name": "sig"}, "transform": [{"filter": "datum.m == 'IAA-ASP'"}], "mark": {"type": "rule", "color": "#000", "strokeWidth": 1.3}, "encoding": {"x": {"datum": "CON", "type": "nominal", "bandPosition": 0.5}, "x2": {"datum": "OTA", "bandPosition": 0.5}, "y": {"field": "y", "type": "quantitative"}}},
       {"data": {"name": "sig"}, "transform": [{"filter": "datum.m == 'IAA-ASP'"}], "mark": {"type": "text", "fontSize": 9, "fontWeight": "bold", "baseline": "bottom"}, "encoding": {"x": {"datum": "CON", "type": "nominal", "bandPosition": 1.28}, "y": {"field": "y", "type": "quantitative"}, "text": {"field": "lab"}}}
      ]
     },
     {
      "width": 85, "height": 70,
      "title": {"text": "TRP", "fontSize": 7, "offset": 6},
      "encoding": {"x": {"field": "g", "type": "nominal", "scale": {"domain": ["CON", "OTA"], "paddingInner": 0.36, "paddingOuter": 0.38}, "axis": {"title": null, "labelAngle": 0, "labelFontSize": 6.5, "labelFontWeight": "bold", "domainColor": "#000", "domainWidth": 1.2, "tickColor": "#000", "tickSize": 3, "labelPadding": 2}}},
      "layer": [
       {"data": {"name": "bars"}, "transform": [{"filter": "datum.m == 'TRP'"}], "mark": {"type": "rule", "color": "#000", "strokeWidth": 1.2}, "encoding": {"y": {"field": "mean", "type": "quantitative"}, "y2": {"field": "hi"}}},
       {"data": {"name": "bars"}, "transform": [{"filter": "datum.m == 'TRP'"}], "mark": {"type": "tick", "color": "#000", "thickness": 1.2, "size": 12}, "encoding": {"y": {"field": "hi", "type": "quantitative"}}},
       {"data": {"name": "bars"}, "transform": [{"filter": "datum.m == 'TRP'"}], "mark": {"type": "bar", "stroke": "#000", "strokeWidth": 1.5}, "encoding": {"y": {"field": "mean", "type": "quantitative", "scale": {"domain": [0, 10000]}, "axis": {"values": [0, 2000, 4000, 6000, 8000, 10000], "labelExpr": "datum.value == 0 ? '0' : datum.value < 1000 ? format(datum.value, 'd') : format(datum.value / pow(10, floor(log(datum.value) / LN10 + 0.000001)), '') + '×10' + ['', '', '', '³', '⁴', '⁵'][floor(log(datum.value) / LN10 + 0.000001)]", "title": "nmol/kg", "labelFontSize": 5.5, "labelFontWeight": "bold", "titleFontSize": 6, "titleFontWeight": "bold", "domainColor": "#000", "domainWidth": 1.2, "tickColor": "#000", "titlePadding": 2, "labelOverlap": false}}, "color": {"field": "g", "type": "nominal", "scale": {"domain": ["CON", "OTA"], "range": ["#000000", "#a3a3a7"]}, "legend": null}}},
       {"data": {"name": "sig"}, "transform": [{"filter": "datum.m == 'TRP'"}], "mark": {"type": "rule", "color": "#000", "strokeWidth": 1.3}, "encoding": {"x": {"datum": "CON", "type": "nominal", "bandPosition": 0.5}, "x2": {"datum": "OTA", "bandPosition": 0.5}, "y": {"field": "y", "type": "quantitative"}}},
       {"data": {"name": "sig"}, "transform": [{"filter": "datum.m == 'TRP'"}], "mark": {"type": "text", "fontSize": 7, "fontWeight": "bold", "fontStyle": "italic", "baseline": "bottom", "dy": -1}, "encoding": {"x": {"datum": "CON", "type": "nominal", "bandPosition": 1.28}, "y": {"field": "y", "type": "quantitative"}, "text": {"field": "lab"}}}
      ]
     }
    ],
    "columns": 2,
    "bounds": "flush",
    "spacing": {"row": 44, "column": 67}
   }
  ],
  "spacing": 74,
  "resolve": {"scale": {"color": "independent", "shape": "independent", "size": "independent"}}
 }
]
}
